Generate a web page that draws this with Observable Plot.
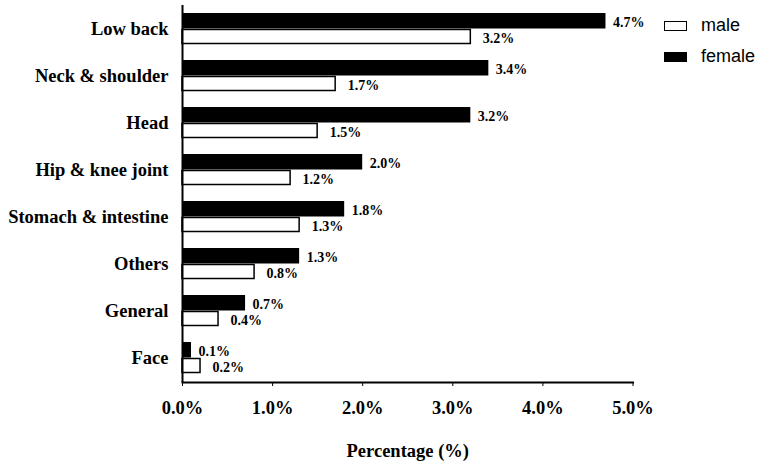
<!DOCTYPE html>
<html>
<head>
<meta charset="utf-8">
<script src="https://cdn.jsdelivr.net/npm/d3@7"></script>
<script src="https://cdn.jsdelivr.net/npm/@observablehq/plot@0.6"></script>
<style>
  html, body { margin: 0; padding: 0; background: #fff; }
  #wrap { position: relative; width: 762px; height: 465px; }
  #legend { position: absolute; left: 664px; top: 10px; font-family: "Liberation Sans", Arial, sans-serif; font-size: 18px; color: #000; }
  .lg-row { display: flex; align-items: center; height: 31px; }
  .lg-box { width: 21px; height: 8px; border: 1.5px solid #000; margin-right: 14px; box-sizing: content-box; }
</style>
</head>
<body>
<div id="wrap"><div id="chart"></div><div id="legend"></div></div>
<script>
const categories = ["Low back", "Neck & shoulder", "Head", "Hip & knee joint", "Stomach & intestine", "Others", "General", "Face"];
const femaleValues = [4.7, 3.4, 3.2, 2.0, 1.8, 1.3, 0.7, 0.1];
const maleValues = [3.2, 1.7, 1.5, 1.2, 1.3, 0.8, 0.4, 0.2];
const xTicks = [0, 1, 2, 3, 4, 5];
const series = [{name: "male", fill: "#fff"}, {name: "female", fill: "#000"}];

const fmt = v => v.toFixed(1) + "%";
const femaleData = categories.map((c, i) => ({category: c, value: femaleValues[i]}));
const maleData = categories.map((c, i) => ({category: c, value: maleValues[i]}));

const chart = Plot.plot({
  width: 762,
  height: 465,
  marginLeft: 182,
  marginRight: 129.5,
  marginTop: 5,
  marginBottom: 83,
  style: {fontFamily: "'Liberation Serif','Times New Roman',serif", fontWeight: "bold", fontSize: "18.5px", color: "#000", background: "#fff"},
  x: {domain: [0, 5], ticks: xTicks, tickFormat: fmt, label: "Percentage (%)", labelAnchor: "center", labelArrow: "none", labelOffset: 74, tickSize: 4, tickPadding: 14},
  y: {domain: categories, paddingInner: 0.34, paddingOuter: 0.18, tickSize: 0, tickPadding: 14, label: null},
  marks: [
    Plot.barX(femaleData, {x: "value", y: "category", fill: "#000", insetBottom: 15.5}),
    Plot.barX(maleData, {x: "value", y: "category", fill: "#fff", stroke: "#000", strokeWidth: 1.5, insetTop: 16.5, insetBottom: 0.5}),
    Plot.text(femaleData, {x: "value", y: "category", text: d => fmt(d.value), textAnchor: "start", dx: 7, dy: -6, fontSize: 14, fontWeight: "bold"}),
    Plot.text(maleData, {x: "value", y: "category", text: d => fmt(d.value), textAnchor: "start", dx: 12, dy: 10, fontSize: 14, fontWeight: "bold"}),
    Plot.frame({anchor: "bottom", stroke: "#000", strokeWidth: 2}),
    Plot.ruleX([0], {stroke: "#000", strokeWidth: 2})
  ]
});
document.getElementById("chart").appendChild(chart);

const legend = document.getElementById("legend");
for (const s of series) {
  const row = document.createElement("div");
  row.className = "lg-row";
  const box = document.createElement("div");
  box.className = "lg-box";
  box.style.background = s.fill;
  const label = document.createElement("span");
  label.textContent = s.name;
  row.appendChild(box);
  row.appendChild(label);
  legend.appendChild(row);
}
</script>
</body>
</html>
